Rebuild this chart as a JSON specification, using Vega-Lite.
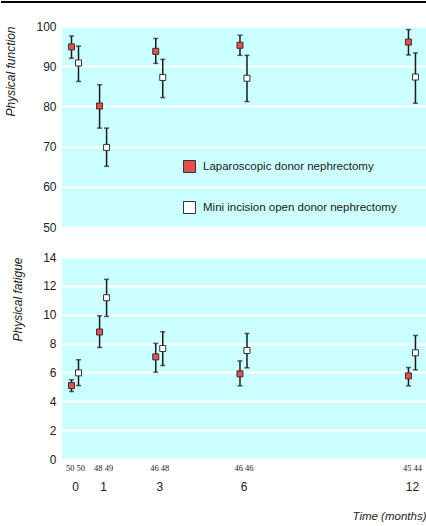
{
  "$schema": "https://vega.github.io/schema/vega-lite/v6.json",
  "padding": {"left": 0, "top": 0, "right": 0, "bottom": 2},
  "background": "white",
  "spacing": 18,
  "config": {
    "font": "Liberation Sans",
    "view": {"fill": "#ccffff", "stroke": null},
    "axis": {"labelFont": "Liberation Sans", "labelColor": "#222", "titleColor": "#222", "titleFont": "Liberation Sans", "titleFontWeight": "normal", "titleFontStyle": "italic", "titleFontSize": 12, "labelOverlap": false}
  },
  "datasets": {
    "pf": [
      {"time": 0, "group": "Laparoscopic donor nephrectomy", "mean": 94.8, "lo": 92.0, "hi": 97.5},
      {"time": 0, "group": "Mini incision open donor nephrectomy", "mean": 90.8, "lo": 86.2, "hi": 95.0},
      {"time": 1, "group": "Laparoscopic donor nephrectomy", "mean": 80.1, "lo": 74.6, "hi": 85.4},
      {"time": 1, "group": "Mini incision open donor nephrectomy", "mean": 69.8, "lo": 65.1, "hi": 74.6},
      {"time": 3, "group": "Laparoscopic donor nephrectomy", "mean": 93.7, "lo": 90.7, "hi": 96.9},
      {"time": 3, "group": "Mini incision open donor nephrectomy", "mean": 87.2, "lo": 82.2, "hi": 91.7},
      {"time": 6, "group": "Laparoscopic donor nephrectomy", "mean": 95.2, "lo": 92.7, "hi": 97.7},
      {"time": 6, "group": "Mini incision open donor nephrectomy", "mean": 87.0, "lo": 81.2, "hi": 92.7},
      {"time": 12, "group": "Laparoscopic donor nephrectomy", "mean": 96.0, "lo": 92.8, "hi": 99.1},
      {"time": 12, "group": "Mini incision open donor nephrectomy", "mean": 87.3, "lo": 80.8, "hi": 93.3}
    ],
    "fat": [
      {"time": 0, "group": "Laparoscopic donor nephrectomy", "mean": 5.09, "lo": 4.68, "hi": 5.49},
      {"time": 0, "group": "Mini incision open donor nephrectomy", "mean": 5.97, "lo": 5.09, "hi": 6.88},
      {"time": 1, "group": "Laparoscopic donor nephrectomy", "mean": 8.8, "lo": 7.73, "hi": 9.93},
      {"time": 1, "group": "Mini incision open donor nephrectomy", "mean": 11.18, "lo": 9.88, "hi": 12.45},
      {"time": 3, "group": "Laparoscopic donor nephrectomy", "mean": 7.08, "lo": 6.02, "hi": 8.01},
      {"time": 3, "group": "Mini incision open donor nephrectomy", "mean": 7.66, "lo": 6.48, "hi": 8.82},
      {"time": 6, "group": "Laparoscopic donor nephrectomy", "mean": 5.9, "lo": 5.07, "hi": 6.8},
      {"time": 6, "group": "Mini incision open donor nephrectomy", "mean": 7.52, "lo": 6.32, "hi": 8.7},
      {"time": 12, "group": "Laparoscopic donor nephrectomy", "mean": 5.76, "lo": 5.07, "hi": 6.34},
      {"time": 12, "group": "Mini incision open donor nephrectomy", "mean": 7.36, "lo": 6.18, "hi": 8.56}
    ],
    "counts": [
      {"time": 0, "n": "50 50"},
      {"time": 1, "n": "48 49"},
      {"time": 3, "n": "46 48"},
      {"time": 6, "n": "46 46"},
      {"time": 12, "n": "45 44"}
    ]
  },
  "vconcat": [
    {
      "width": 364,
      "height": 201,
      "data": {"name": "pf"},
      "layer": [
        {
          "mark": {"type": "rule", "color": "#000", "strokeWidth": 2},
          "encoding": {
            "x": {"datum": -2.63, "type": "quantitative", "scale": {"domain": [-0.463, 12.5], "nice": false, "zero": false}, "axis": null},
            "x2": {"datum": 12.55},
            "y": {"datum": 106, "type": "quantitative", "scale": {"domain": [50, 100], "nice": false, "zero": false},
                  "axis": {"title": "Physical function", "titleAnchor": "end", "titlePadding": 18, "values": [50, 60, 70, 80, 90, 100], "labelFontSize": 12, "labelPadding": 6, "ticks": false, "domain": false, "grid": true, "gridColor": "white", "gridWidth": 2, "gridOpacity": 1}}
          }
        },
        {
          "transform": [{"filter": "datum.group == 'Laparoscopic donor nephrectomy'"}],
          "encoding": {"x": {"field": "time", "type": "quantitative", "axis": null}},
          "layer": [
            {"mark": {"type": "rule", "color": "#1a1a1a", "strokeWidth": 1.5, "xOffset": -3.5},
             "encoding": {"y": {"field": "lo", "type": "quantitative"}, "y2": {"field": "hi"}}},
            {"mark": {"type": "tick", "orient": "horizontal", "color": "#1a1a1a", "size": 5, "thickness": 1.5, "xOffset": -3.5},
             "encoding": {"y": {"field": "hi", "type": "quantitative"}}},
            {"mark": {"type": "tick", "orient": "horizontal", "color": "#1a1a1a", "size": 5, "thickness": 1.5, "xOffset": -3.5},
             "encoding": {"y": {"field": "lo", "type": "quantitative"}}},
            {"mark": {"type": "point", "shape": "square", "filled": true, "size": 36, "stroke": "#333", "strokeWidth": 1, "opacity": 1, "xOffset": -3.5},
             "encoding": {"y": {"field": "mean", "type": "quantitative"},
               "fill": {"field": "group", "type": "nominal", "scale": {"domain": ["Laparoscopic donor nephrectomy", "Mini incision open donor nephrectomy"], "range": ["#e4504c", "#ffffff"]},
                     "legend": {"title": null, "orient": "none", "legendX": 121, "legendY": 134, "symbolType": "square", "symbolSize": 144, "symbolStrokeColor": "#444", "symbolStrokeWidth": 1, "symbolOpacity": 1, "labelFontSize": 11.5, "labelFont": "Liberation Sans", "labelColor": "#222", "labelOffset": 7, "rowPadding": 24, "labelLimit": 300}}}}
          ]
        },
        {
          "transform": [{"filter": "datum.group == 'Mini incision open donor nephrectomy'"}],
          "encoding": {"x": {"field": "time", "type": "quantitative", "axis": null}},
          "layer": [
            {"mark": {"type": "rule", "color": "#1a1a1a", "strokeWidth": 1.5, "xOffset": 3.5},
             "encoding": {"y": {"field": "lo", "type": "quantitative"}, "y2": {"field": "hi"}}},
            {"mark": {"type": "tick", "orient": "horizontal", "color": "#1a1a1a", "size": 5, "thickness": 1.5, "xOffset": 3.5},
             "encoding": {"y": {"field": "hi", "type": "quantitative"}}},
            {"mark": {"type": "tick", "orient": "horizontal", "color": "#1a1a1a", "size": 5, "thickness": 1.5, "xOffset": 3.5},
             "encoding": {"y": {"field": "lo", "type": "quantitative"}}},
            {"mark": {"type": "point", "shape": "square", "filled": true, "size": 36, "stroke": "#333", "strokeWidth": 1, "opacity": 1, "xOffset": 3.5},
             "encoding": {"y": {"field": "mean", "type": "quantitative"}, "fill": {"field": "group", "type": "nominal"}}}
          ]
        }
      ]
    },
    {
      "width": 364,
      "height": 202,
      "resolve": {"axis": {"x": "independent"}},
      "layer": [
        {
          "data": {"name": "counts"},
          "mark": {"type": "text", "opacity": 0},
          "encoding": {
            "x": {"field": "time", "type": "quantitative", "scale": {"domain": [-0.463, 12.5], "nice": false, "zero": false},
                  "axis": {"orient": "bottom", "title": null, "values": [0, 1, 3, 6, 12], "ticks": false, "domain": false, "grid": false, "labelFont": "Liberation Sans Narrow", "labelFontSize": 8.5, "labelPadding": 4,
                           "labelExpr": "datum.value == 0 ? '50 50' : datum.value == 1 ? '48 49' : datum.value == 3 ? '46 48' : datum.value == 6 ? '46 46' : '45 44'"}},
            "y": {"datum": 0, "type": "quantitative", "scale": {"domain": [0, 14], "nice": false, "zero": false},
                  "axis": {"title": "Physical fatigue", "titleAnchor": "end", "titlePadding": 18, "values": [0, 2, 4, 6, 8, 10, 12, 14], "tickCount": 8, "labelFontSize": 12, "labelPadding": 6, "ticks": false, "domain": false, "grid": true, "gridColor": "white", "gridWidth": 2, "gridOpacity": 1}},
            "text": {"field": "n"}
          }
        },
        {
          "data": {"name": "fat"},
          "encoding": {"x": {"field": "time", "type": "quantitative",
                  "axis": {"orient": "bottom", "title": "Time (months)", "titleAnchor": "end", "titleFontSize": 11.5, "titlePadding": 18, "offset": 18, "values": [0, 1, 3, 6, 12], "ticks": false, "domain": false, "grid": false, "labelFontSize": 12, "labelPadding": 4}}},
          "layer": [
            {
              "transform": [{"filter": "datum.group == 'Laparoscopic donor nephrectomy'"}],
              "layer": [
                {"mark": {"type": "rule", "color": "#1a1a1a", "strokeWidth": 1.5, "xOffset": -3.5},
                 "encoding": {"y": {"field": "lo", "type": "quantitative"}, "y2": {"field": "hi"}}},
                {"mark": {"type": "tick", "orient": "horizontal", "color": "#1a1a1a", "size": 5, "thickness": 1.5, "xOffset": -3.5},
                 "encoding": {"y": {"field": "hi", "type": "quantitative"}}},
                {"mark": {"type": "tick", "orient": "horizontal", "color": "#1a1a1a", "size": 5, "thickness": 1.5, "xOffset": -3.5},
                 "encoding": {"y": {"field": "lo", "type": "quantitative"}}},
                {"mark": {"type": "point", "shape": "square", "filled": true, "size": 36, "stroke": "#333", "strokeWidth": 1, "opacity": 1, "xOffset": -3.5},
                 "encoding": {"y": {"field": "mean", "type": "quantitative"}, "fill": {"field": "group", "type": "nominal", "scale": {"domain": ["Laparoscopic donor nephrectomy", "Mini incision open donor nephrectomy"], "range": ["#e4504c", "#ffffff"]}, "legend": null}}}
              ]
            },
            {
              "transform": [{"filter": "datum.group == 'Mini incision open donor nephrectomy'"}],
              "layer": [
                {"mark": {"type": "rule", "color": "#1a1a1a", "strokeWidth": 1.5, "xOffset": 3.5},
                 "encoding": {"y": {"field": "lo", "type": "quantitative"}, "y2": {"field": "hi"}}},
                {"mark": {"type": "tick", "orient": "horizontal", "color": "#1a1a1a", "size": 5, "thickness": 1.5, "xOffset": 3.5},
                 "encoding": {"y": {"field": "hi", "type": "quantitative"}}},
                {"mark": {"type": "tick", "orient": "horizontal", "color": "#1a1a1a", "size": 5, "thickness": 1.5, "xOffset": 3.5},
                 "encoding": {"y": {"field": "lo", "type": "quantitative"}}},
                {"mark": {"type": "point", "shape": "square", "filled": true, "size": 36, "stroke": "#333", "strokeWidth": 1, "opacity": 1, "xOffset": 3.5},
                 "encoding": {"y": {"field": "mean", "type": "quantitative"}, "fill": {"field": "group", "type": "nominal", "legend": null}}}
              ]
            }
          ]
        }
      ]
    }
  ]
}
